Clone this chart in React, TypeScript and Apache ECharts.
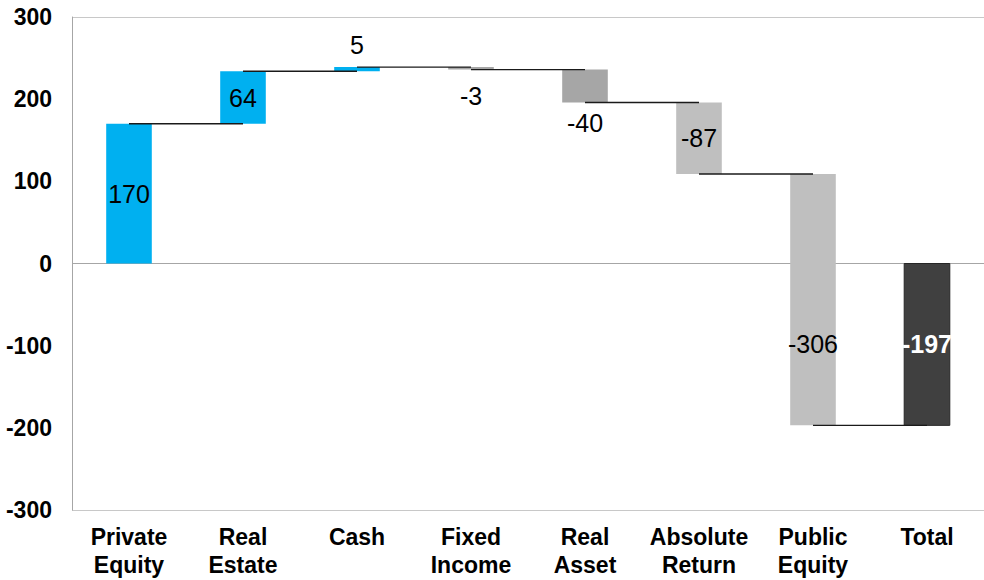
import React, { useEffect, useRef } from "react";
import * as echarts from "echarts";

const categories = [
  "Private\nEquity",
  "Real\nEstate",
  "Cash",
  "Fixed\nIncome",
  "Real\nAsset",
  "Absolute\nReturn",
  "Public\nEquity",
  "Total",
];
const changes = [170, 64, 5, -3, -40, -87, -306];
const totalValue = -197;
const yMin = -300;
const yMax = 300;
const yInterval = 100;

// styles (kept apart from the data)
const barColors = ["#00B0F0", "#00B0F0", "#00B0F0", "#A6A6A6", "#A6A6A6", "#BFBFBF", "#BFBFBF", "#404040"];
const labelModes = ["inside", "inside", "top", "bottom", "bottom", "inside", "inside", "inside"];
const labelDistances = [0, 0, 10, 14, 9, 0, 0, 0];

const FONT = "'Liberation Sans', Arial, sans-serif";

export default function App() {
  const ref = useRef<HTMLDivElement>(null);

  useEffect(() => {
    if (!ref.current) return;
    const chart = echarts.init(ref.current, undefined, { renderer: "svg" });

    // build waterfall rows: [index, start, end, value]
    const rows: number[][] = [];
    let run = 0;
    changes.forEach((c, i) => {
      rows.push([i, run, run + c, c]);
      run += c;
    });
    rows.push([changes.length, 0, totalValue, totalValue]);
    const n = rows.length;

    const option: any = {
      animation: false,
      grid: { left: 72, right: -1, top: 17, bottom: 70, containLabel: false },
      xAxis: {
        type: "category",
        data: categories,
        axisLine: { show: false },
        axisTick: { show: false },
        splitLine: { show: false },
        axisLabel: {
          interval: 0,
          color: "#000",
          fontFamily: FONT,
          fontWeight: "bold",
          fontSize: 23,
          lineHeight: 28,
          margin: 13,
        },
      },
      yAxis: {
        type: "value",
        min: yMin,
        max: yMax,
        interval: yInterval,
        axisLine: { show: true, lineStyle: { color: "#A6A6A6", width: 1 } },
        axisTick: { show: false },
        axisLabel: {
          color: "#000",
          fontFamily: FONT,
          fontWeight: "bold",
          fontSize: 23,
          margin: 20,
        },
        splitLine: {
          show: true,
          lineStyle: {
            color: ["#C8C8C8", "transparent", "transparent", "#A6A6A6", "transparent", "transparent", "#C8C8C8"],
            width: 1,
          },
        },
      },
      series: [
        {
          type: "custom",
          data: rows,
          encode: { x: 0, y: [1, 2] },
          renderItem: (params: any, api: any) => {
            const i = api.value(0);
            const s = api.value(1);
            const e = api.value(2);
            const v = api.value(3);
            const p0 = api.coord([i, s]);
            const p1 = api.coord([i, e]);
            const bw = api.size([1, 0])[0] * 0.4;
            const top = Math.min(p0[1], p1[1]);
            const bottom = Math.max(p0[1], p1[1]);
            const children: any[] = [];
            const isTotal = i === n - 1;
            children.push({
              type: "rect",
              z2: 1,
              shape: { x: p0[0] - bw / 2, y: top, width: bw, height: bottom - top },
              style: {
                fill: barColors[i],
                stroke: isTotal ? "#262626" : null,
                lineWidth: isTotal ? 1 : 0,
              },
            });
            if (i < n - 1) {
              const next = api.coord([i + 1, e]);
              children.push({
                type: "line",
                z2: 10,
                shape: { x1: p1[0], y1: p1[1], x2: next[0], y2: p1[1] },
                style: { stroke: "#1A1A1A", lineWidth: 1.4 },
              });
            }
            // label anchor
            let ly: number;
            const mode = labelModes[i];
            if (mode === "top") {
              ly = top - labelDistances[i] - 12;
            } else if (mode === "bottom") {
              ly = bottom + labelDistances[i] + 12;
            } else {
              let a = s;
              let b = e;
              if (s > 0 && e < 0) a = 0; // crossing zero: centre of the negative part
              if (s < 0 && e > 0) b = 0;
              ly = api.coord([i, (a + b) / 2])[1];
            }
            children.push({
              type: "text",
              z2: 20,
              style: {
                text: String(v),
                x: p0[0],
                y: ly,
                align: "center",
                verticalAlign: "middle",
                fill: isTotal ? "#FFFFFF" : "#000000",
                fontFamily: FONT,
                fontSize: 25,
                fontWeight: isTotal ? "bold" : "normal",
              },
            });
            return { type: "group", children };
          },
        },
      ],
    };

    chart.setOption(option);
    return () => chart.dispose();
  }, []);

  return (
    <div
      ref={ref}
      style={{ position: "fixed", left: 0, top: 0, width: 984, height: 580, background: "#fff" }}
    />
  );
}
